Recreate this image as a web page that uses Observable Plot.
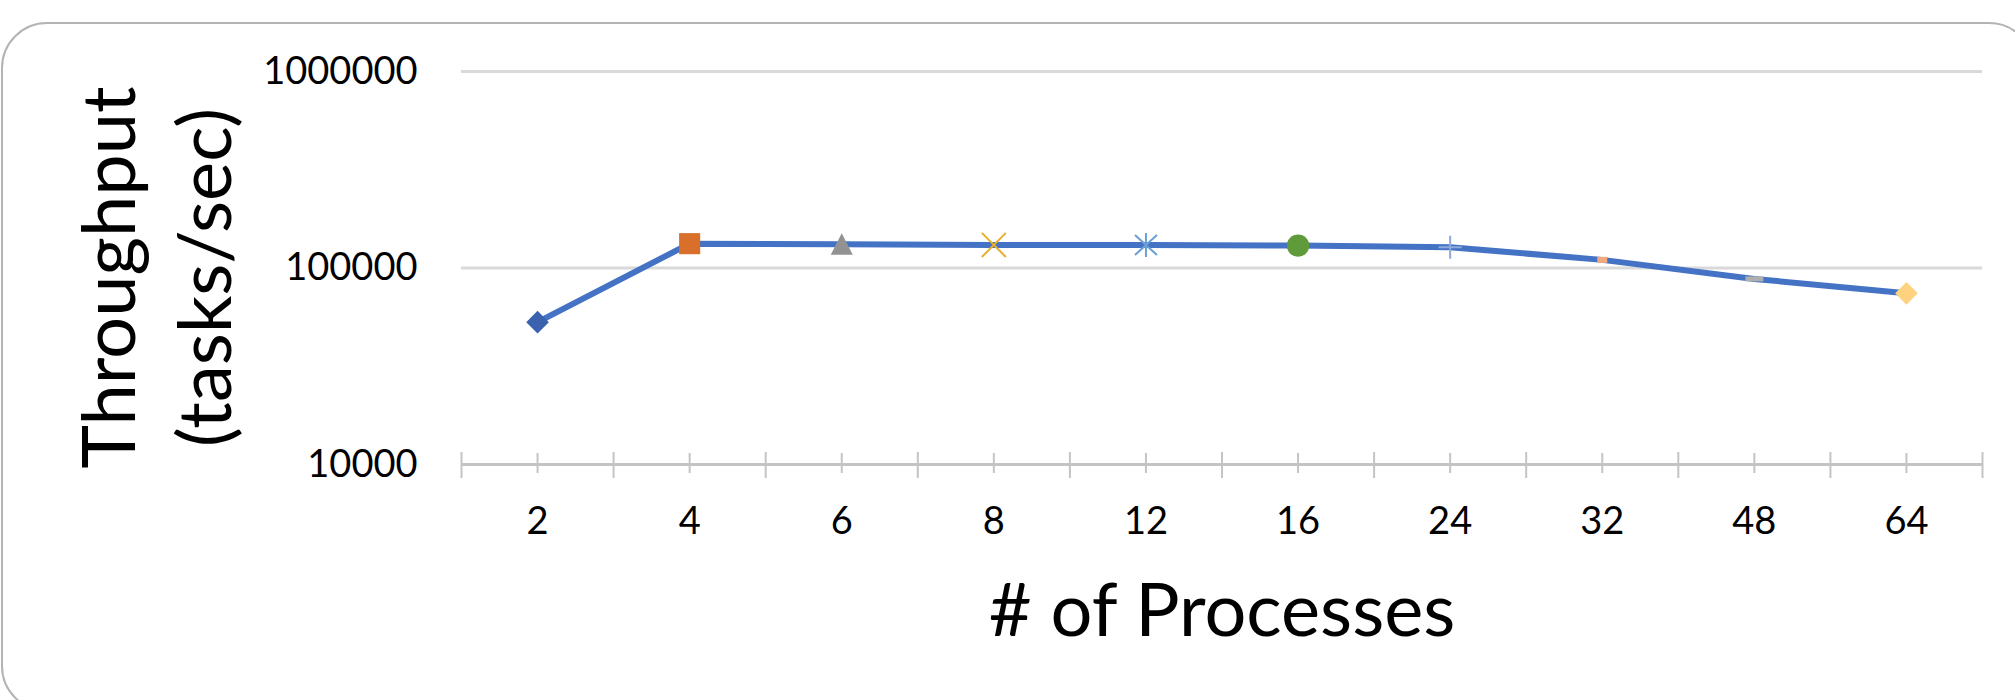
<!DOCTYPE html>
<html>
<head>
<meta charset="utf-8">
<script src="https://cdn.jsdelivr.net/npm/d3@7"></script>
<script src="https://cdn.jsdelivr.net/npm/@observablehq/plot@0.6"></script>
<style>
  html, body { margin: 0; padding: 0; background: #fff; overflow: hidden; }
  #wrap { position: relative; width: 2015px; height: 700px; overflow: hidden; }
  #border { position: absolute; left: 1px; top: 22px; width: 2034px; height: 690px;
            border: 2px solid #b4b4b4; border-radius: 46px; box-sizing: border-box; pointer-events: none; }
  #chart { position: absolute; left: 0; top: 0; }
</style>
</head>
<body>
<div id="wrap"><div id="chart"></div><div id="border"></div></div>
<script>
// ---- data ----
const processes = ["2", "4", "6", "8", "12", "16", "24", "32", "48", "64"];
const throughput = [53000, 133000, 132000, 131000, 131000, 130000, 127500, 110000, 88000, 74300];
const yTicks = [10000, 100000, 1000000];
const xTitle = "# of Processes";
const yTitleLines = ["Throughput", "(tasks/sec)"];

// ---- marker styles (one per point, Excel-like varied markers) ----
const rectSym = (w, h) => ({ draw(c) { c.rect(-w / 2, -h / 2, w, h); } });
const triSym = { draw(c) { c.moveTo(0, -11); c.lineTo(11, 10.5); c.lineTo(-11, 10.5); c.closePath(); } };
const starSym = { draw(c) {
  c.moveTo(0, -12); c.lineTo(0, 12);
  c.moveTo(-11, -10); c.lineTo(11, 10);
  c.moveTo(-11, 10); c.lineTo(11, -10);
} };
const markers = [
  { symbol: "diamond2", r: 10.2, fill: "#3a62ae", stroke: "none" },
  { symbol: "square", r: 11.9, fill: "#d8702c", stroke: "none" },
  { symbol: triSym, r: 10, fill: "#929292", stroke: "none" },
  { symbol: "times", r: 11, fill: "none", stroke: "#e6b02a", strokeWidth: 2 },
  { symbol: starSym, r: 10, fill: "none", stroke: "#6a9fd6", strokeWidth: 2 },
  { symbol: "circle", r: 11.2, fill: "#5f9b3b", stroke: "none" },
  { symbol: "plus", r: 7.5, fill: "none", stroke: "#8eaadb", strokeWidth: 2 },
  { symbol: rectSym(10, 6), r: 5, fill: "#f2a97c", stroke: "none" },
  { symbol: rectSym(18, 5), r: 9, fill: "#aeaeae", stroke: "none" },
  { symbol: "diamond2", r: 10.2, fill: "#ffd27f", stroke: "none" }
];

const rows = processes.map((p, i) => ({ i, p, v: throughput[i] }));
const centers = d3.range(processes.length);
const bounds = d3.range(processes.length + 1).map(k => k - 0.5);

const W = 2015, H = 700;
const mL = 461, mR = 33, mT = 71, mB = 236;
const frameH = H - mT - mB;

const plot = Plot.plot({
  width: W,
  height: H,
  marginLeft: mL,
  marginRight: mR,
  marginTop: mT,
  marginBottom: mB,
  style: { fontFamily: "Lato, sans-serif", background: "transparent", color: "#000", overflow: "visible" },
  x: { type: "linear", domain: [-0.5, processes.length - 0.5] },
  y: { type: "log", domain: [10000, 1000000] },
  marks: [
    Plot.ruleY(yTicks.slice(1), { stroke: "#d9d9d9", strokeWidth: 3 }),
    Plot.ruleY(yTicks.slice(0, 1), { stroke: "#c4c4c4", strokeWidth: 3 }),
    Plot.ruleX(bounds, { x: d => d, stroke: "#c4c4c4", strokeWidth: 2, insetTop: frameH - 12, insetBottom: -14 }),
    Plot.ruleX(centers, { x: d => d, stroke: "#c4c4c4", strokeWidth: 2, insetTop: frameH - 11, insetBottom: -9 }),
    Plot.axisY({ ticks: yTicks, tickFormat: d3.format("d"), tickSize: 0, tickPadding: 44, fontSize: 38, label: null }),
    Plot.axisX({ ticks: centers, tickFormat: i => processes[i], tickSize: 0, tickPadding: 43, fontSize: 38, label: null }),
    Plot.line(rows, { x: "i", y: "v", stroke: "#4472c4", strokeWidth: 6, strokeLinejoin: "round" }),
    ...rows.map((d, k) => Plot.dot([d], { x: "i", y: "v", ...markers[k] })),
    Plot.text([xTitle], { frameAnchor: "bottom", text: d => d, dy: 171, lineAnchor: "bottom", fontSize: 74, fill: "#000" }),
    Plot.text([yTitleLines[0]], { frameAnchor: "left", text: d => d, rotate: -90, dx: -327, dy: 9.5, textAnchor: "middle", lineAnchor: "bottom", fontSize: 74, fill: "#000" }),
    Plot.text([yTitleLines[1]], { frameAnchor: "left", text: d => d, rotate: -90, dx: -231, dy: 9.5, textAnchor: "middle", lineAnchor: "bottom", fontSize: 74, fill: "#000" })
  ]
});
document.getElementById("chart").appendChild(plot);
</script>
</body>
</html>
